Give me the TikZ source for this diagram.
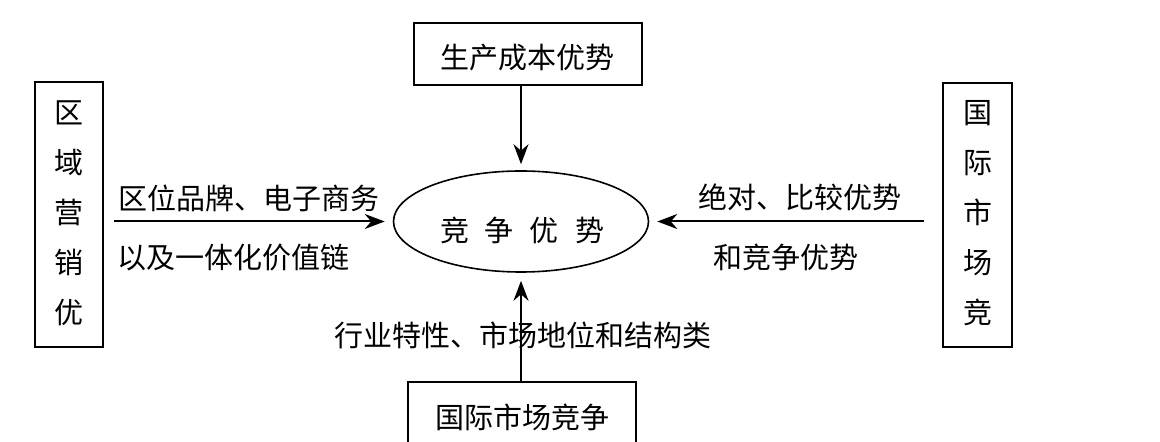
\documentclass[tikz,border=0pt]{standalone}
\usepackage{fontspec}
\setmainfont{Noto Sans CJK SC}
\usetikzlibrary{shapes.geometric,arrows.meta}
\begin{document}
\begin{tikzpicture}[x=0.5pt,y=-0.5pt,
  box/.style={draw,line width=1.4pt,inner sep=0pt},
  arr/.style={line width=1pt,-{Stealth[length=10pt,width=7.5pt]}},
  lbl/.style={inner sep=0pt,font=\fontsize{14.5}{17}\selectfont},
  vlbl/.style={inner sep=0pt,align=center,font=\fontsize{14.5}{25}\selectfont}]
\useasboundingbox (0,0) rectangle (1160,442);
\clip (0,0) rectangle (1160,442);
% boxes
\node[box,minimum width=34pt,minimum height=132.5pt] (lbox) at (69,214.5) {};
\node[vlbl] (ltxt) at (69,213) {区\\域\\营\\销\\优};
\node[box,minimum width=34.5pt,minimum height=132pt] (rbox) at (977.5,215) {};
\node[vlbl] (rtxt) at (978,213.5) {国\\际\\市\\场\\竞};
\node[box,minimum width=114pt,minimum height=31pt] (tbox) at (528,54) {};
\node[lbl] (ttxt) at (527,58) {生产成本优势};
\node[box,minimum width=114pt,minimum height=35pt] (bbox) at (522,417) {};
\node[lbl] (btxt) at (522,417) {国际市场竞争};
% ellipse
\node[draw,ellipse,line width=0.8pt,minimum width=127.5pt,minimum height=50.5pt,inner sep=0pt] (ell) at (521,221.5) {};
\node[lbl] (etxt) at (522,230) {竞\hspace{8pt}争\hspace{8pt}优\hspace{8pt}势};
% arrows
\coordinate (ls) at ([xshift=5pt]lbox.east);
\coordinate (rs) at ([xshift=-9pt]rbox.west);
\draw[arr] (tbox.south -| ell.north) -- ([yshift=3pt]ell.north);
\draw[arr] (bbox.north -| ell.south) -- ([yshift=-4pt]ell.south);
\draw[arr] (ls |- ell.west) -- ([xshift=-4pt]ell.west);
\draw[arr] (rs |- ell.east) -- ([xshift=4pt]ell.east);
% labels
\node[lbl] (l1) at (249,198) {区位品牌、电子商务};
\node[lbl,anchor=west] (l2) at (117,258) {以及一体化价值链};
\node[lbl] (r1) at (800,197) {绝对、比较优势};
\node[lbl] (r2) at (785.5,257) {和竞争优势};
\node[lbl] (b1) at (522.5,335) {行业特性、市场地位和结构类};
\end{tikzpicture}
\end{document}
